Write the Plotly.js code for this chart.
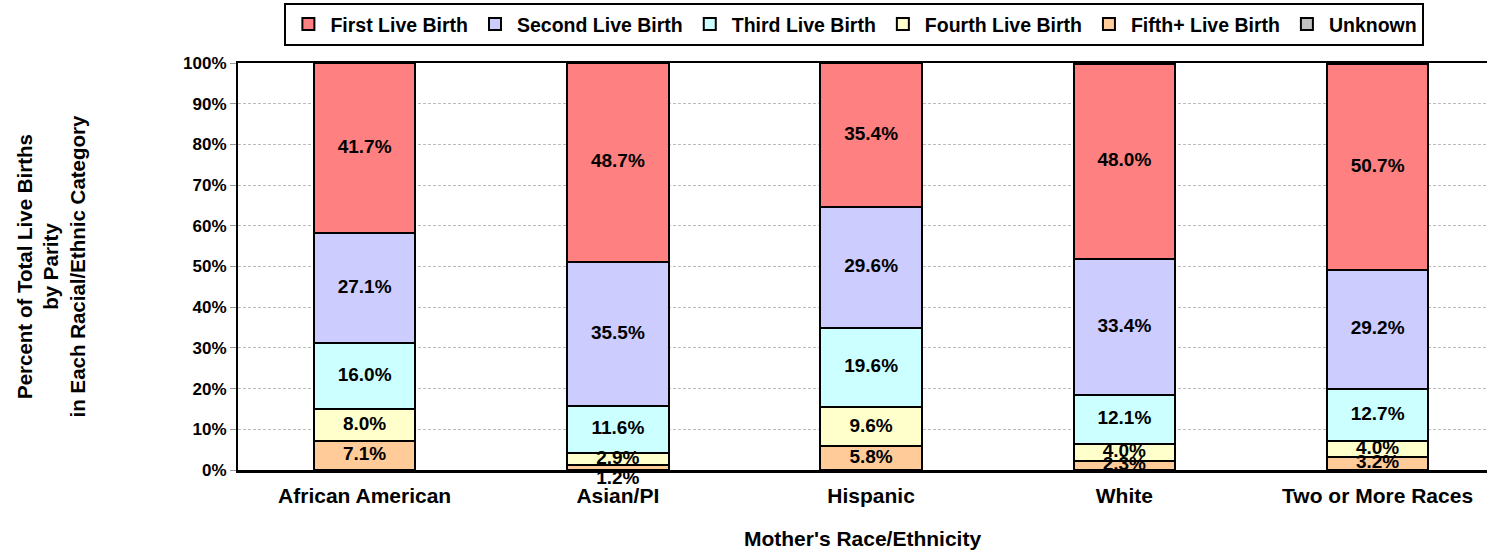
<!DOCTYPE html>
<html>
<head>
<meta charset="utf-8">
<script src="https://cdn.plot.ly/plotly-3.0.1.min.js"></script>
<style>
html,body{margin:0;padding:0;background:#fff;}
#chart{width:1487px;height:553px;}
</style>
</head>
<body>
<div id="chart"></div>
<script>
// ---- data ----
var categories = ['African American', 'Asian/PI', 'Hispanic', 'White', 'Two or More Races'];
var fifthPlus = [7.1, 1.2, 5.8, 2.3, 3.2];
var fourth    = [8.0, 2.9, 9.6, 4.0, 4.0];
var third     = [16.0, 11.6, 19.6, 12.1, 12.7];
var second    = [27.1, 35.5, 29.6, 33.4, 29.2];
var first     = [41.7, 48.7, 35.4, 48.0, 50.7];
var unknown   = [0.1, 0.1, 0.0, 0.2, 0.2];
var yTickVals = [0, 10, 20, 30, 40, 50, 60, 70, 80, 90, 100];
var yTickText = ['0%', '10%', '20%', '30%', '40%', '50%', '60%', '70%', '80%', '90%', '100%'];

// ---- styling ----
var FONT = 'Liberation Sans, Arial, Helvetica, sans-serif';
var series = [
  {name: 'Fifth+ Live Birth', y: fifthPlus, color: '#FFCC99', rank: 5},
  {name: 'Fourth Live Birth', y: fourth, color: '#FFFFCC', rank: 4},
  {name: 'Third Live Birth', y: third, color: '#CCFFFF', rank: 3},
  {name: 'Second Live Birth', y: second, color: '#CCCCFF', rank: 2},
  {name: 'First Live Birth', y: first, color: '#FF8080', rank: 1},
  {name: 'Unknown', y: unknown, color: '#C0C0C0', rank: 6}
];

var traces = series.map(function (s) {
  return {
    type: 'bar', x: categories, y: s.y, name: s.name,
    marker: {color: s.color, line: {color: '#000', width: 2}},
    width: 0.4, legendrank: s.rank, hoverinfo: 'x+y+name'
  };
});

// data labels at the middle of each labelled segment
var lx = [], ly = [], lt = [], lp = [];
var cum = categories.map(function () { return 0; });
series.slice(0, 5).forEach(function (s) {
  s.y.forEach(function (v, i) {
    lx.push(categories[i]);
    var mid = cum[i] + v / 2;
    // the tiny Asian/PI fifth+ label sits just under the bar
    if (v < 2) { ly.push(0); lp.push('bottom center'); }
    else { ly.push(mid); lp.push('middle center'); }
    lt.push(v.toFixed(1) + '%');
    cum[i] += v;
  });
});
traces.push({
  type: 'scatter', mode: 'text', x: lx, y: ly, text: lt, textposition: lp,
  textfont: {family: FONT, size: 19, color: '#000', weight: 'bold'},
  showlegend: false, hoverinfo: 'skip', cliponaxis: false
});

var layout = {
  width: 1487, height: 553,
  margin: {l: 238, r: 0, t: 63, b: 83},
  paper_bgcolor: '#fff', plot_bgcolor: '#fff',
  barmode: 'stack',
  font: {family: FONT, color: '#000'},
  showlegend: true,
  legend: {
    orientation: 'h', x: 0.4935, xanchor: 'center', y: 1.148, yanchor: 'top',
    bordercolor: '#000', borderwidth: 2, bgcolor: '#fff',
    font: {family: FONT, size: 19.5, weight: 'bold', color: '#000'},
    itemwidth: 34, traceorder: 'normal'
  },
  xaxis: {
    type: 'category', range: [-0.5, 4.432],
    showline: true, linecolor: '#000', linewidth: 2.5, mirror: true,
    showgrid: false, ticks: '', ticklabelstandoff: 5,
    tickfont: {family: FONT, size: 21, weight: 'bold', color: '#000'},
    title: {text: "Mother's Race/Ethnicity", standoff: 26,
            font: {family: FONT, size: 21, weight: 'bold', color: '#000'}},
    fixedrange: true
  },
  yaxis: {
    range: [0, 100], tickvals: yTickVals, ticktext: yTickText,
    showline: true, linecolor: '#000', linewidth: 2,
    showgrid: true, gridcolor: '#BBBBBB', gridwidth: 1, griddash: '3px,2px',
    zeroline: false,
    ticks: 'outside', ticklen: 6, tickcolor: '#999', tickwidth: 1,
    tickfont: {family: FONT, size: 17, weight: 'bold', color: '#000'},
    title: {text: 'Percent of Total Live Births<br>by Parity<br>in Each Racial/Ethnic Category',
            standoff: 92,
            font: {family: FONT, size: 20.5, weight: 'bold', color: '#000'}},
    fixedrange: true
  }
};

Plotly.newPlot('chart', traces, layout, {displayModeBar: false, staticPlot: true});
</script>
</body>
</html>
